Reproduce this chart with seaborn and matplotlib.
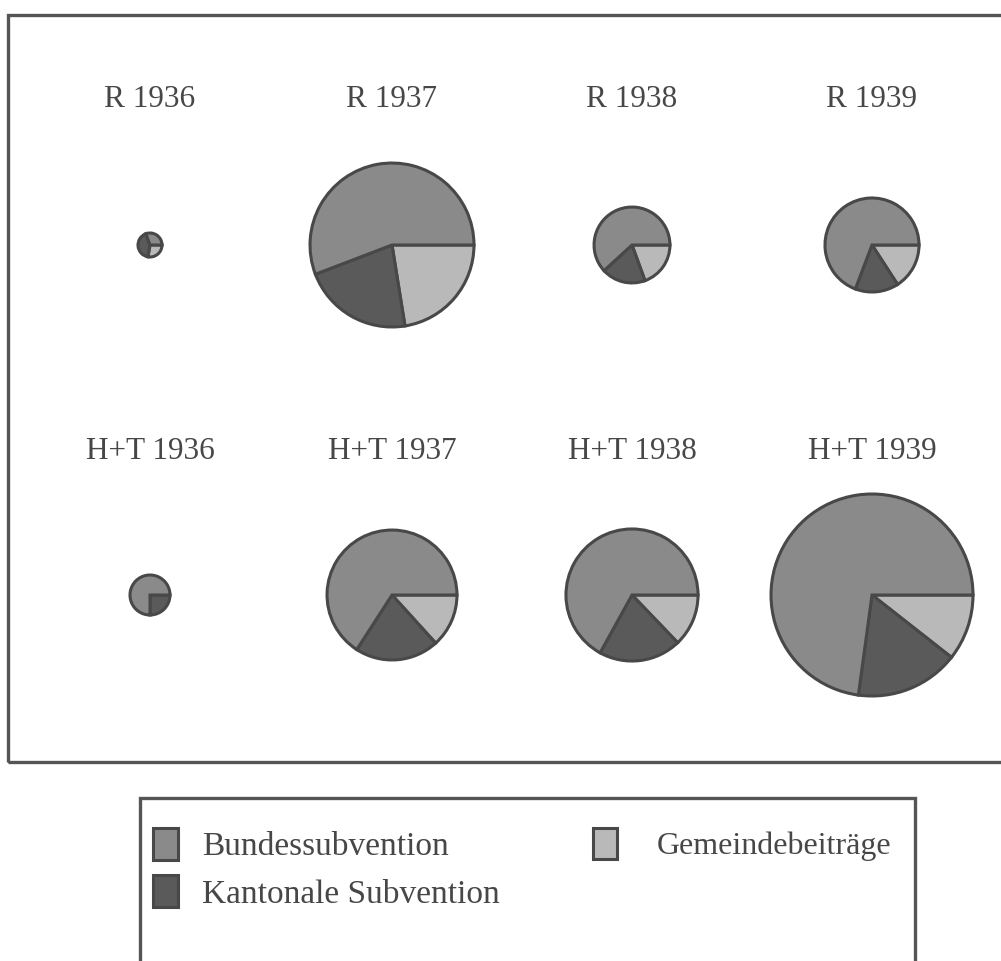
import numpy as np
import matplotlib
matplotlib.use('Agg')
import matplotlib.pyplot as plt
import matplotlib.patches as mpatches
import seaborn as sns

titles = ['R 1936', 'R 1937', 'R 1938', 'R 1939',
          'H+T 1936', 'H+T 1937', 'H+T 1938', 'H+T 1939']
bundessubvention = [0.44, 37.5, 8.9, 15.3, 3.0, 27.8, 29.2, 74.3]
kantonale_subvention = [0.6, 14.6, 2.7, 3.3, 1.0, 8.8, 8.8, 16.9]
gemeindebeitraege = [0.4, 15.1, 2.8, 3.5, 0.0, 5.6, 5.6, 10.8]
labels = ['Bundessubvention', 'Kantonale Subvention', 'Gemeindebeiträge']

sns.set_theme(style='white')
plt.rcParams['font.family'] = ['Liberation Serif', 'DejaVu Serif']

c_bund = '#8a8a8a'
c_kant = '#5a5a5a'
c_gem = '#b9b9b9'
c_edge = '#484848'
c_text = '#474747'

W, H = 1001, 961
fig = plt.figure(figsize=(W / 100, H / 100), dpi=100)
ax = fig.add_axes([0, 0, 1, 1])

col_x = [150, 392, 632, 872]
row_y = [245, 595]
title_y = [107, 459]
k = 10.0  # px per sqrt(unit)

for i, t in enumerate(titles):
    cx = col_x[i % 4]
    cy = H - row_y[i // 4]
    vals = [gemeindebeitraege[i], kantonale_subvention[i], bundessubvention[i]]
    r = k * np.sqrt(sum(vals))
    ax.pie(vals, colors=[c_gem, c_kant, c_bund], startangle=0, counterclock=False,
           radius=r, center=(cx, cy), frame=True,
           wedgeprops=dict(edgecolor=c_edge, linewidth=2.2))
    ax.text(cx, H - title_y[i // 4], t, ha='center', va='baseline',
            fontsize=22.5, color=c_text)

# outer frame and legend box
ax.add_patch(mpatches.Rectangle((8, H - 762), W, 762 - 15, fill=False,
                                edgecolor='#555555', linewidth=2.4))
ax.add_patch(mpatches.Rectangle((140, -30), 775, H - 798 + 30, fill=False,
                                edgecolor='#555555', linewidth=2.4))

ax.set_xlim(0, W)
ax.set_ylim(0, H)
ax.set_aspect('equal')
ax.axis('off')

handles = [mpatches.Patch(facecolor=c, edgecolor=c_edge, linewidth=2.2)
           for c in [c_bund, c_kant, c_gem]]
fs = 24
em = fs * 100 / 72
common = dict(loc='upper left', frameon=False, fontsize=fs,
              handlelength=25 / em, handleheight=37 / em,
              labelspacing=0.38, borderpad=0, borderaxespad=0,
              labelcolor=c_text)
fig.legend(handles[:2], labels[:2], bbox_to_anchor=(153 / W, 1 - 828 / H),
           handletextpad=24 / em, **common)
fig.legend(handles[2:], labels[2:], bbox_to_anchor=(593 / W, 1 - 828 / H),
           handletextpad=42 / em, prop=dict(size=fs - 1), **{k2: v for k2, v in common.items() if k2 != 'fontsize'})

fig.savefig('out.png', dpi=100)
